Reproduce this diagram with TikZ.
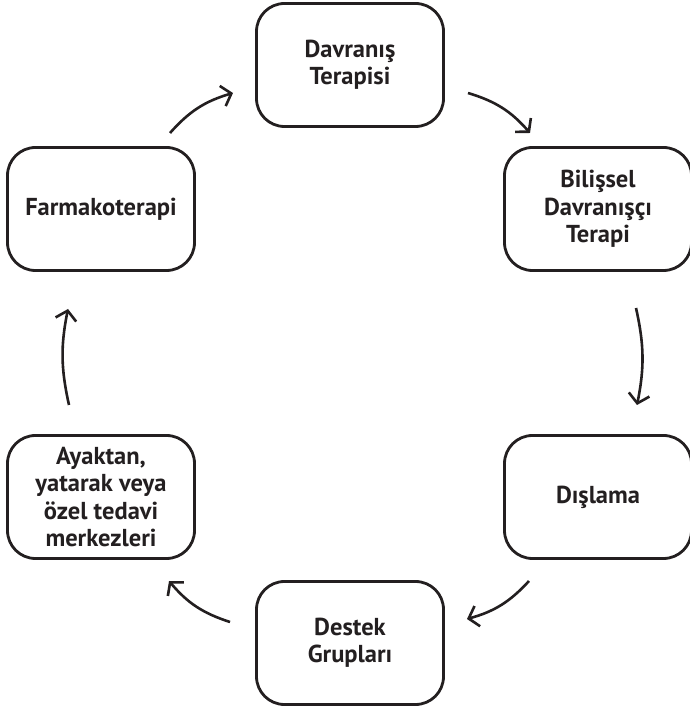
\documentclass[tikz,border=0pt]{standalone}
\usepackage{fontspec}
\setmainfont{PT Sans}
\usetikzlibrary{arrows.meta}
\definecolor{ink}{HTML}{231F20}
\begin{document}
\begin{tikzpicture}[x=1pt,y=1pt,
  stepbox/.style={draw=ink, line width=2.8pt, rounded corners=28pt,
    minimum width=187pt, minimum height=123pt, align=center, text=ink,
    font=\bfseries\fontsize{24.5}{27.5}\selectfont},
  flow/.style={draw=ink, line width=2.6pt, bend left=16,
    -{Straight Barb[length=9pt,width=21pt]}}]
\useasboundingbox (0,0) rectangle (690,710);

% the six stages of the cycle
\node[stepbox] (dav) at (350,645) {Davranış\\Terapisi};
\node[stepbox] (bdt) at (598,501) {Bilişsel\\Davranışçı\\Terapi};
\node[stepbox] (dis) at (598,213) {Dışlama};
\node[stepbox] (des) at (350,67)  {Destek\\Grupları};
\node[stepbox] (aya) at (101,213) {Ayaktan,\\yatarak veya\\özel tedavi\\merkezleri};
\node[stepbox] (far) at (101,501) {Farmakoterapi};

% free ends of the curved arrows between the stages
\coordinate (a1s) at (170,577); \coordinate (a1e) at (233,617);
\coordinate (a2s) at (468,617); \coordinate (a2e) at (530,577);
\coordinate (a3s) at (636,402); \coordinate (a3e) at (637,305);
\coordinate (a4s) at (529,129); \coordinate (a4e) at (467,91);
\coordinate (a5s) at (230,88);  \coordinate (a5e) at (169,129);
\coordinate (a6s) at (69,305);  \coordinate (a6e) at (68,401);

\draw[flow] (a1s) to (a1e);
\draw[flow] (a2s) to (a2e);
\draw[flow, bend left=12] (a3s) to (a3e);
\draw[flow] (a4s) to (a4e);
\draw[flow] (a5s) to (a5e);
\draw[flow, bend left=12] (a6s) to (a6e);
\end{tikzpicture}
\end{document}
